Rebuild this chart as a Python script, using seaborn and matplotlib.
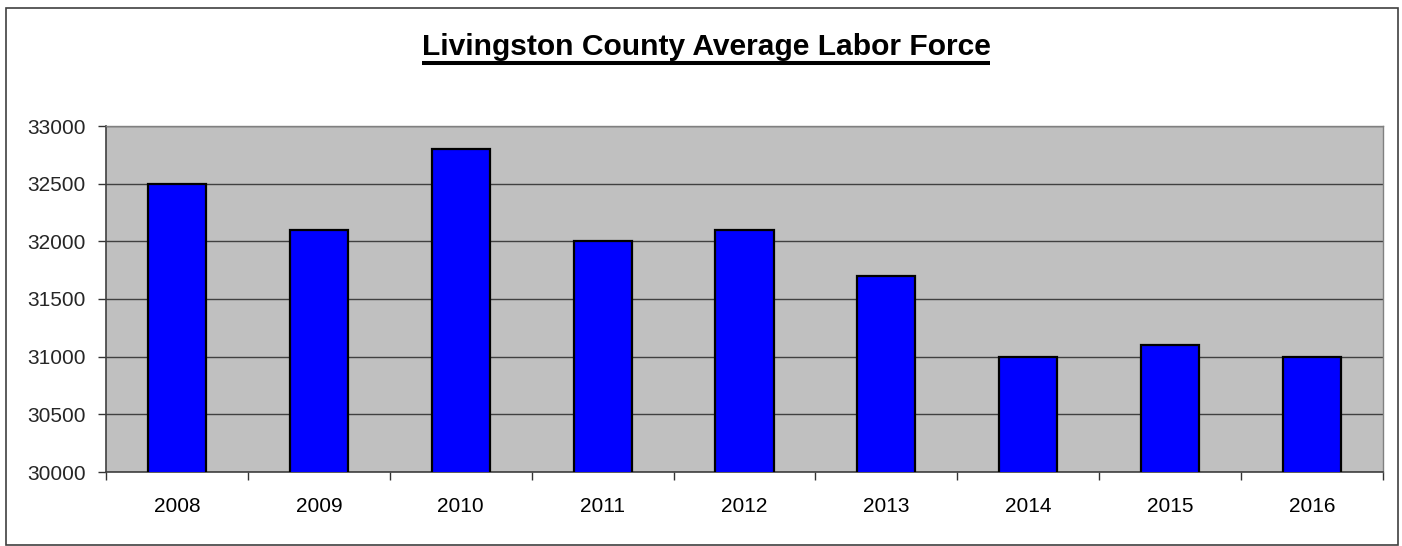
import matplotlib
matplotlib.use("Agg")
import matplotlib.pyplot as plt
import seaborn as sns
import pandas as pd
import numpy as np
from matplotlib.patches import Rectangle
from matplotlib.lines import Line2D

years = ["2008", "2009", "2010", "2011", "2012", "2013", "2014", "2015", "2016"]
labor_force = [32500, 32100, 32800, 32000, 32100, 31700, 31000, 31100, 31000]
y_ticks = [30000, 30500, 31000, 31500, 32000, 32500, 33000]
title = "Livingston County Average Labor Force"

sns.set_theme(style="white")
plt.rcParams['font.family'] = ['Liberation Sans', 'DejaVu Sans']

df = pd.DataFrame({"year": years, "value": labor_force})

W, H = 1402, 546
fig = plt.figure(figsize=(W / 100, H / 100), dpi=100)
fig.patch.set_facecolor("white")
ax = fig.add_axes([106 / W, 1 - 472 / H, (1383 - 106) / W, (472 - 126) / H])
ax.set_facecolor("#C0C0C0")

sns.barplot(data=df, x="year", y="value", ax=ax, color="#0000FF",
            width=0.41, edgecolor="black", linewidth=1.6, saturation=1, zorder=3)

ax.set_ylim(30000, 33000)
ax.set_xlim(-0.5, len(years) - 0.5)
ax.set_yticks(y_ticks)
ax.set_yticklabels([str(v) for v in y_ticks], fontsize=15)
ax.set_xticks(range(len(years)))
ax.set_xticklabels(years, fontsize=15)
ax.set_xticks(np.arange(-0.5, len(years), 1.0), minor=True)
ax.tick_params(axis="x", which="major", length=0, pad=18, colors="black")
ax.tick_params(axis="x", which="minor", length=6, width=1, color="#333333", direction="out", bottom=True)
ax.tick_params(axis="y", which="major", length=6, width=1, color="#333333", direction="out", left=True, pad=8.5)
ax.set_xlabel("")
ax.set_ylabel("")

ax.yaxis.grid(True, color="#404040", linewidth=1.0, zorder=1)
ax.set_axisbelow(True)
for s in ["left", "bottom"]:
    ax.spines[s].set_color("#404040")
    ax.spines[s].set_linewidth(1.2)
for s in ["top", "right"]:
    ax.spines[s].set_color("#808080")
    ax.spines[s].set_linewidth(1.0)

# Title with underline
t = fig.text(706 / W, 1 - 55 / H, title, ha="center", va="baseline",
             fontsize=21.6, fontweight="bold", color="black")
fig.canvas.draw()
bb = t.get_window_extent(renderer=fig.canvas.get_renderer())
uy = 1 - 63 / H
fig.add_artist(Line2D([bb.x0 / W, bb.x1 / W], [uy, uy], color="black", linewidth=2.9,
                      solid_capstyle="butt", transform=fig.transFigure))

# Outer chart border
fig.add_artist(Rectangle((6 / W, 1 - 545 / H), (1398 - 6) / W, (545 - 8) / H,
                         transform=fig.transFigure, fill=False, edgecolor="#404040",
                         linewidth=1.2))

fig.savefig("out.png", dpi=100, facecolor="white")
